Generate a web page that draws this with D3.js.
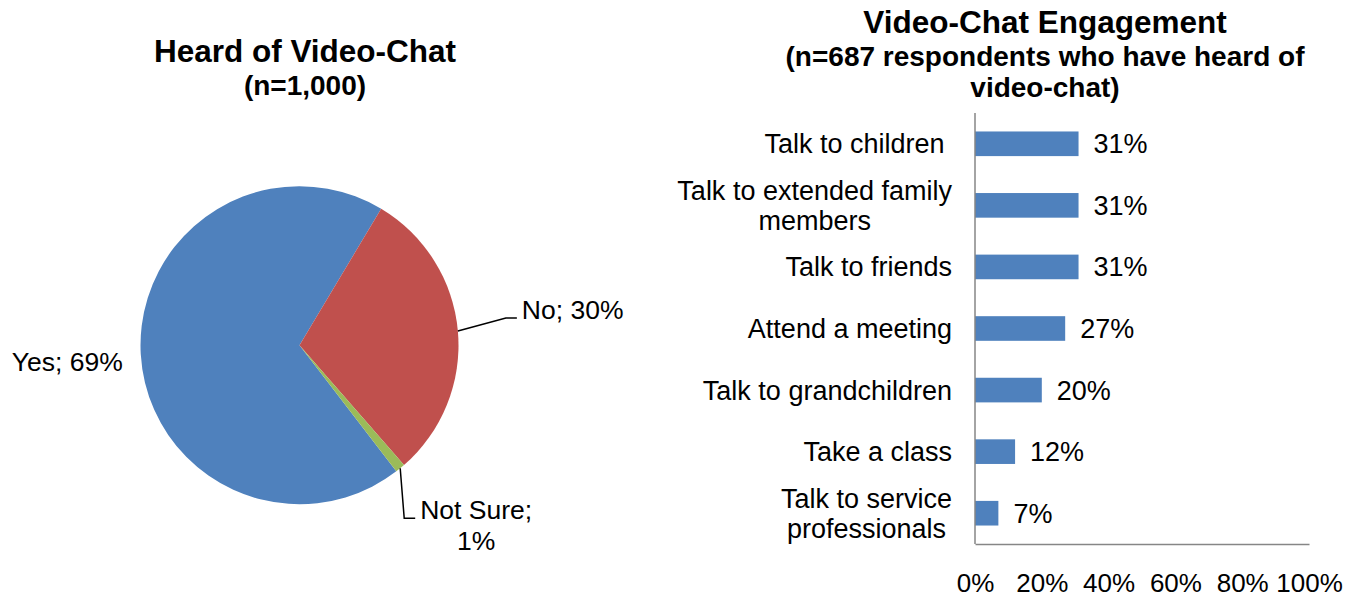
<!DOCTYPE html>
<html>
<head>
<meta charset="utf-8">
<script src="https://cdn.jsdelivr.net/npm/d3@7"></script>
<style>
  html, body { margin: 0; padding: 0; background: #fff; }
  svg { display: block; font-family: "Liberation Sans", Arial, sans-serif; }
  .pre { white-space: pre; }
</style>
</head>
<body>
<svg id="chart" width="1357" height="597"></svg>
<script>
// Pie: awareness of video-chat
const pieLabels = ["Yes", "No", "Not Sure"];
const pieValues = [69, 30, 1];
const pieColors = ["#4F81BD", "#C0504D", "#9BBB59"];

// Bars: what respondents use video-chat for
const barCategories = [
  ["Talk to children "],
  ["Talk to extended family", "members"],
  ["Talk to friends"],
  ["Attend a meeting"],
  ["Talk to grandchildren"],
  ["Take a class"],
  ["Talk to service", "professionals"]
];
const barValues = [31, 31, 31, 27, 20, 12, 7];
const xTicks = [0, 20, 40, 60, 80, 100];

const svg = d3.select("#chart");

// ---------- Pie chart ----------
const cx = 299.5, cy = 345.2, r = 159;
const startDeg = 142.5;
const pie = d3.pie().sort(null).value(d => d)
  .startAngle(startDeg * Math.PI / 180)
  .endAngle((startDeg + 360) * Math.PI / 180);
const arcs = pie(pieValues);
const arc = d3.arc().innerRadius(0).outerRadius(r);

const pg = svg.append("g").attr("transform", `translate(${cx},${cy})`);
pg.selectAll("path.slice").data(arcs).join("path")
  .attr("class", "slice")
  .attr("d", arc)
  .attr("fill", (d, i) => pieColors[i]);

svg.append("text").attr("x", 305).attr("y", 62).attr("text-anchor", "middle")
  .attr("font-weight", "bold").attr("font-size", 31.5).text("Heard of Video-Chat");
svg.append("text").attr("x", 305).attr("y", 95).attr("text-anchor", "middle")
  .attr("font-weight", "bold").attr("font-size", 28).text("(n=1,000)");

// point on the rim at a slice's middle angle
function rimPoint(d, rad) {
  const a = (d.startAngle + d.endAngle) / 2;
  return [Math.sin(a) * rad, -Math.cos(a) * rad];
}

const labelFont = 26.5;
// Yes: label sits beside the slice, no leader
{
  const d = arcs[0];
  const p = rimPoint(d, r + 18);
  pg.append("text").attr("x", p[0]).attr("y", p[1] + 16)
    .attr("text-anchor", "end").attr("font-size", labelFont)
    .text(`${pieLabels[0]}; ${pieValues[0]}%`);
}
// No: elbow leader to the right
{
  const d = arcs[1];
  const p0 = rimPoint(d, r);
  const p1 = [p0[0] + 48, p0[1] - 13];
  const p2 = [p1[0] + 11, p1[1]];
  pg.append("path").attr("d", d3.line()([p0, p1, p2]))
    .attr("fill", "none").attr("stroke", "#000").attr("stroke-width", 1.5);
  pg.append("text").attr("x", p2[0] + 5).attr("y", p2[1] + 1)
    .attr("font-size", labelFont)
    .text(`${pieLabels[1]}; ${pieValues[1]}%`);
}
// Not Sure: drop-down leader with a two-line label
{
  const d = arcs[2];
  const p0 = rimPoint(d, r);
  const p1 = [p0[0] + 4, p0[1] + 50];
  const p2 = [p1[0] + 11, p1[1]];
  pg.append("path").attr("d", d3.line()([p0, p1, p2]))
    .attr("fill", "none").attr("stroke", "#000").attr("stroke-width", 1.5);
  const t = pg.append("text").attr("font-size", labelFont).attr("text-anchor", "middle");
  const lines = [`${pieLabels[2]};`, `${pieValues[2]}%`];
  const tmp = pg.append("text").attr("font-size", labelFont).text(lines[0]);
  const w = tmp.node().getComputedTextLength();
  tmp.remove();
  const mid = p2[0] + 5 + w / 2;
  lines.forEach((s, i) => {
    t.append("tspan").attr("x", mid).attr("y", p2[1] + 1 + i * 31).text(s);
  });
}

// ---------- Bar chart ----------
const x = d3.scaleLinear().domain([0, 100]).range([975, 1309]);
const y = d3.scaleBand().domain(d3.range(barValues.length))
  .range([113, 544]).paddingInner(0.6).paddingOuter(0.3);

svg.append("text").attr("x", 1045).attr("y", 33).attr("text-anchor", "middle")
  .attr("font-weight", "bold").attr("font-size", 31.5).text("Video-Chat Engagement");
svg.append("text").attr("x", 1045).attr("y", 66).attr("text-anchor", "middle")
  .attr("font-weight", "bold").attr("font-size", 28).text("(n=687 respondents who have heard of");
svg.append("text").attr("x", 1045).attr("y", 97).attr("text-anchor", "middle")
  .attr("font-weight", "bold").attr("font-size", 28).text("video-chat)");

svg.append("g").selectAll("rect").data(barValues).join("rect")
  .attr("x", x(0))
  .attr("y", (d, i) => y(i))
  .attr("width", d => x(d) - x(0))
  .attr("height", y.bandwidth())
  .attr("fill", "#4F81BD");

// axes: vertical category axis and horizontal value axis, no tick marks
const axisColor = "#868686";
const yAxis = d3.axisLeft(y).tickSize(0).tickFormat("");
svg.append("g").attr("transform", `translate(${x(0)},0)`).call(yAxis)
  .call(g => g.select(".domain").attr("stroke", axisColor).attr("stroke-width", 1.5)
    .attr("d", `M0,${y.range()[0]}V${y.range()[1]}`));
const xAxis = d3.axisBottom(x).tickValues(xTicks).tickSize(0).tickFormat(d => d + "%");
svg.append("g").attr("transform", `translate(0,${y.range()[1]})`).call(xAxis)
  .call(g => g.select(".domain").attr("stroke", axisColor).attr("stroke-width", 1.5))
  .call(g => g.selectAll(".tick text").attr("font-size", 26).attr("fill", "#000")
    .attr("font-family", "Liberation Sans, Arial, sans-serif").attr("dy", 0).attr("y", 48));

// value labels
const barFont = 27;
svg.append("g").selectAll("text").data(barValues).join("text")
  .attr("x", d => x(d) + 15)
  .attr("y", (d, i) => y(i) + y.bandwidth() / 2)
  .attr("dy", "0.35em")
  .attr("font-size", barFont)
  .text(d => d + "%");

// category labels: right aligned block, lines centred on each other
const catG = svg.append("g");
barCategories.forEach((lines, i) => {
  const cyBand = y(i) + y.bandwidth() / 2;
  const lh = 30;
  const widths = lines.map(s => {
    const t = catG.append("text").attr("class", "pre").attr("font-size", barFont).text(s);
    const w = t.node().getComputedTextLength();
    t.remove();
    return w;
  });
  const maxW = d3.max(widths);
  const right = 952;
  const t = catG.append("text").attr("class", "pre").attr("font-size", barFont).attr("text-anchor", "middle");
  lines.forEach((s, j) => {
    t.append("tspan")
      .attr("x", right - maxW / 2)
      .attr("y", cyBand + (j - (lines.length - 1) / 2) * lh)
      .attr("dy", "0.35em")
      .text(s);
  });
});
</script>
</body>
</html>
